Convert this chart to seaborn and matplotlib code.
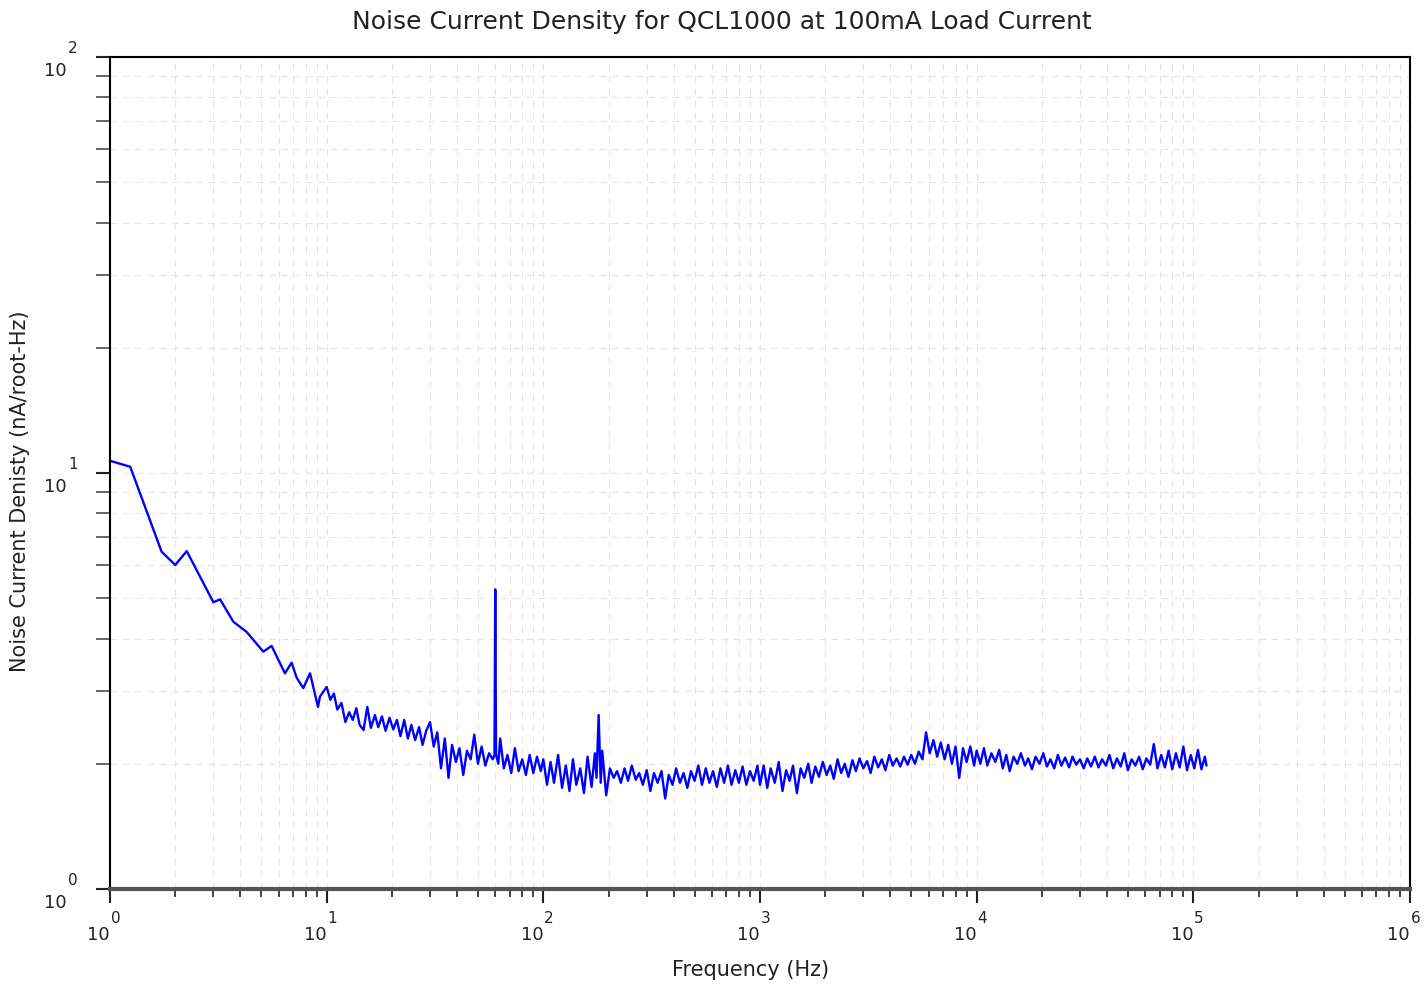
import numpy as np
import pandas as pd
import matplotlib
matplotlib.use("Agg")
import matplotlib.pyplot as plt
import matplotlib.ticker as mticker
import seaborn as sns

# Frequencia (Hz) y densidad de ruido (nA/root-Hz)
freq_d0 = [1.0, 1.24, 1.73, 2.0, 2.26, 3.0, 3.22, 3.71, 4.27, 5.10, 5.57, 6.42, 6.89,
           7.27, 7.80, 8.38, 9.12, 9.31]
dens_d0 = [10.7, 10.35, 6.47, 6.01, 6.49, 4.89, 4.97, 4.39, 4.15, 3.72, 3.84, 3.30, 3.50,
           3.22, 3.04, 3.30, 2.74, 2.90]

freq_d1 = [10.0, 10.4, 10.8, 11.2, 11.7, 12.2, 12.7, 13.2, 13.7, 14.2, 14.8, 15.4, 16.0,
           16.7, 17.3, 18.0, 18.7, 19.5, 20.3, 21.1, 21.9, 22.8, 23.7, 24.6, 25.6, 26.7,
           27.7, 28.8, 30.0, 31.2, 32.4, 33.7, 35.1, 36.5, 37.9, 39.5, 41.0, 42.7, 44.4,
           46.2, 48.0, 49.9, 51.9, 54.0, 56.2, 58.4, 59.5, 60.0, 60.5, 62.0, 63.2, 65.7,
           68.3, 71.1, 73.9, 76.9, 79.9, 83.1, 86.5, 89.9, 93.5, 97.3]
dens_d1 = [3.06, 2.85, 2.95, 2.70, 2.80, 2.52, 2.66, 2.55, 2.72, 2.48, 2.41, 2.74, 2.44,
           2.62, 2.45, 2.60, 2.40, 2.58, 2.42, 2.55, 2.33, 2.55, 2.30, 2.48, 2.28, 2.45,
           2.22, 2.40, 2.52, 2.20, 2.38, 1.95, 2.30, 1.85, 2.22, 2.02, 2.18, 1.88, 2.15,
           2.05, 2.35, 2.00, 2.20, 1.98, 2.12, 2.05, 2.10, 5.25, 2.10, 2.00, 2.30, 1.95,
           2.10, 1.90, 2.18, 1.92, 2.05, 1.88, 2.10, 1.90, 2.08, 1.92]

freq_d2 = [100, 104, 108, 112, 117, 122, 127, 132, 137, 142, 148, 154, 160, 167, 173, 176,
           180, 184, 187, 195, 203, 211, 219, 228, 237, 246, 256, 267, 277, 288, 300, 312,
           324, 337, 351, 365, 379, 395, 410, 427, 444, 462, 480, 499, 519, 540, 562, 584,
           607, 632, 657, 683, 711, 739, 769, 799, 831, 865, 899, 935, 973]
dens_d2 = [2.05, 1.78, 2.02, 1.80, 2.10, 1.75, 1.98, 1.72, 2.05, 1.78, 1.95, 1.70, 2.08,
           1.76, 2.12, 1.85, 2.62, 1.80, 2.15, 1.68, 1.95, 1.85, 1.92, 1.80, 1.95, 1.82,
           1.98, 1.83, 1.90, 1.78, 1.93, 1.72, 1.90, 1.80, 1.92, 1.65, 1.88, 1.78, 1.95,
           1.80, 1.90, 1.75, 1.92, 1.82, 1.98, 1.78, 1.95, 1.80, 1.92, 1.76, 1.95, 1.80,
           1.98, 1.78, 1.93, 1.80, 1.97, 1.78, 1.92, 1.82, 1.98]

freq_d3 = [1000, 1040, 1080, 1120, 1170, 1220, 1270, 1320, 1370, 1420, 1480, 1540, 1600,
           1670, 1730, 1800, 1870, 1950, 2030, 2110, 2190, 2280, 2370, 2460, 2560, 2670,
           2770, 2880, 3000, 3120, 3240, 3370, 3510, 3650, 3790, 3950, 4100, 4270, 4440,
           4620, 4800, 4990, 5190, 5400, 5620, 5840, 6070, 6320, 6570, 6830, 7110, 7390,
           7690, 7990, 8310, 8650, 8990, 9350, 9730]
dens_d3 = [1.78, 1.98, 1.75, 1.95, 1.80, 2.02, 1.72, 1.93, 1.82, 1.98, 1.70, 1.95, 1.85,
           2.00, 1.80, 1.97, 1.86, 2.02, 1.88, 1.98, 1.84, 2.05, 1.90, 2.00, 1.86, 2.04,
           1.92, 2.06, 1.95, 2.03, 1.90, 2.08, 1.96, 2.05, 1.93, 2.10, 1.98, 2.06, 1.97,
           2.08, 1.99, 2.10, 2.00, 2.14, 2.05, 2.38, 2.12, 2.28, 2.08, 2.25, 2.05, 2.22,
           2.00, 2.20, 1.85, 2.18, 2.02, 2.20, 1.98]

freq_d4 = [10000, 10400, 10800, 11200, 11700, 12200, 12700, 13200, 13700, 14200, 14800,
           15400, 16000, 16700, 17300, 18000, 18700, 19500, 20300, 21100, 21900, 22800,
           23700, 24600, 25600, 26700, 27700, 28800, 30000, 31200, 32400, 33700, 35100,
           36500, 37900, 39500, 41000, 42700, 44400, 46200, 48000, 49900, 51900, 54000,
           56200, 58400, 60700, 63200, 65700, 68300, 71100, 73900, 76900, 79900, 83100,
           86500, 89900, 93500, 97300, 101000, 105000, 109000, 113000, 115000]
dens_d4 = [2.15, 2.00, 2.18, 1.98, 2.12, 2.02, 2.16, 1.95, 2.10, 1.92, 2.08, 2.00, 2.12,
           1.98, 2.06, 1.94, 2.08, 2.00, 2.12, 1.97, 2.05, 1.95, 2.10, 1.98, 2.07, 1.96,
           2.08, 1.99, 2.05, 1.95, 2.06, 1.97, 2.08, 1.96, 2.05, 1.98, 2.10, 1.95, 2.06,
           1.97, 2.12, 1.93, 2.05, 1.98, 2.08, 1.94, 2.06, 1.99, 2.23, 1.95, 2.10, 1.96,
           2.15, 1.94, 2.12, 1.96, 2.20, 1.93, 2.10, 1.95, 2.16, 1.94, 2.08, 1.98]

x_exponents = [0, 1, 2, 3, 4, 5, 6]
y_exponents = [0, 1, 2]

df = pd.DataFrame({
    "freq": freq_d0 + freq_d1 + freq_d2 + freq_d3 + freq_d4,
    "dens": dens_d0 + dens_d1 + dens_d2 + dens_d3 + dens_d4,
})

sns.set_style("white")
plt.rcParams["font.family"] = ["DejaVu Sans"]

fig = plt.figure(figsize=(14.27, 9.86), dpi=100)
ax = fig.add_axes([110 / 1427, 1 - 889 / 986, 1300 / 1427, 832 / 986])

sns.lineplot(data=df, x="freq", y="dens", ax=ax, color="#0000ff", linewidth=1.7,
             estimator=None, sort=False)

ax.set_xscale("log")
ax.set_yscale("log")
ax.set_xlim(1, 1e6)
ax.set_ylim(1, 100)

ax.xaxis.set_major_locator(mticker.LogLocator(base=10, numticks=10))
ax.xaxis.set_minor_locator(mticker.LogLocator(base=10, subs=np.arange(2, 10), numticks=100))
ax.yaxis.set_major_locator(mticker.LogLocator(base=10, numticks=10))
ax.yaxis.set_minor_locator(mticker.LogLocator(base=10, subs=np.arange(2, 10), numticks=100))
for axis in (ax.xaxis, ax.yaxis):
    axis.set_major_formatter(mticker.NullFormatter())
    axis.set_minor_formatter(mticker.NullFormatter())

ax.grid(True, which="both", linestyle=(0, (6, 5)), color="#ebe2e2", linewidth=0.8)
ax.tick_params(axis="x", which="major", bottom=True, direction="out", length=10,
               width=1.5, color="#222222")
ax.tick_params(axis="x", which="minor", bottom=True, direction="out", length=6,
               width=1.3, color="#333333")
ax.tick_params(axis="y", which="major", left=True, direction="out", length=10,
               width=1.5, color="#222222")
ax.tick_params(axis="y", which="minor", left=True, direction="out", length=10,
               width=1.4, color="#666666")

for side in ["top", "right", "left"]:
    ax.spines[side].set_color("black")
    ax.spines[side].set_linewidth(1.5)
ax.spines["bottom"].set_color("#555555")
ax.spines["bottom"].set_linewidth(3)

# etiquetas "10" con exponente, como en el original
for k in x_exponents:
    ax.annotate("10", xy=(10 ** k, 0), xycoords=("data", "axes fraction"),
                xytext=(0, -37), textcoords="offset pixels", ha="right", va="top",
                fontsize=13, color="#222222")
    ax.annotate(str(k), xy=(10 ** k, 0), xycoords=("data", "axes fraction"),
                xytext=(1, -22), textcoords="offset pixels", ha="left", va="top",
                fontsize=11, color="#222222")
for k in y_exponents:
    ax.annotate("10", xy=(0, 10 ** k), xycoords=("axes fraction", "data"),
                xytext=(-43, -5), textcoords="offset pixels", ha="right", va="top",
                fontsize=13, color="#222222")
    ax.annotate(str(k), xy=(0, 10 ** k), xycoords=("axes fraction", "data"),
                xytext=(-42, 1), textcoords="offset pixels", ha="left", va="bottom",
                fontsize=11, color="#222222")

ax.set_xlabel("")
ax.set_ylabel("")
fig.text(722 / 1427, 1 - 22 / 986, "Noise Current Density for QCL1000 at 100mA Load Current",
         ha="center", va="center", fontsize=18, color="#222222")
fig.text(751 / 1427, 1 - 970 / 986, "Frequency (Hz)", ha="center", va="center",
         fontsize=15, color="#222222")
fig.text(20 / 1427, 1 - 491 / 986, "Noise Current Denisty (nA/root-Hz)", ha="center",
         va="center", rotation=90, fontsize=15, color="#222222")

fig.savefig("out.png", dpi=100)
